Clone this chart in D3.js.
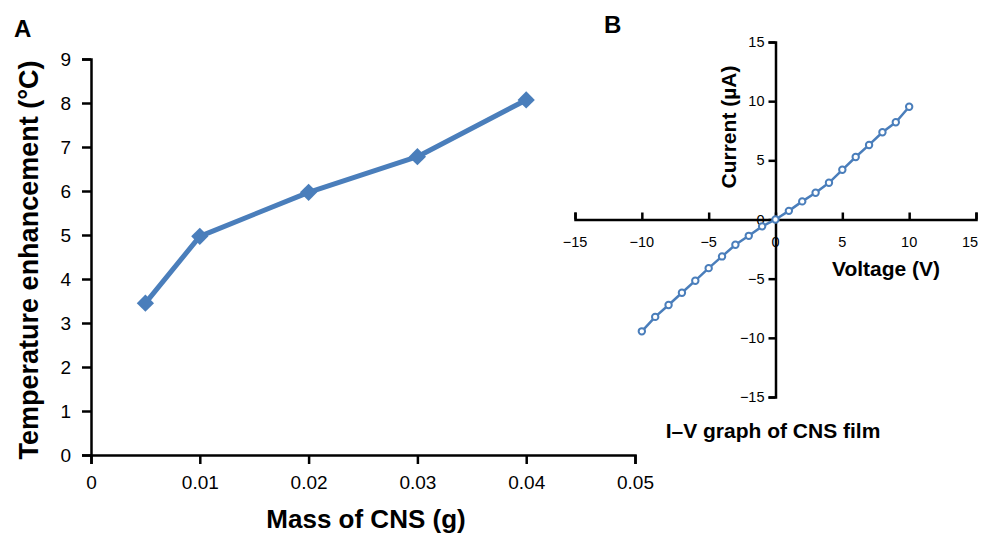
<!DOCTYPE html>
<html>
<head>
<meta charset="utf-8">
<script src="https://cdn.jsdelivr.net/npm/d3@7"></script>
<style>
  body { margin: 0; background: #fff; }
  text { font-family: "Liberation Sans", Arial, sans-serif; fill: #000; }
</style>
</head>
<body>
<div id="chart"></div>
<script>
// panel A data
var massCNS = [0.005, 0.01, 0.02, 0.03, 0.04];
var tempEnh = [3.45, 4.97, 5.97, 6.78, 8.07];
var massTicks = [0, 0.01, 0.02, 0.03, 0.04, 0.05];
var tempTicks = [0, 1, 2, 3, 4, 5, 6, 7, 8, 9];

// panel B data
var voltage = [-10, -9, -8, -7, -6, -5, -4, -3, -2, -1, 0, 1, 2, 3, 4, 5, 6, 7, 8, 9, 10];
var current = [-9.45, -8.23, -7.23, -6.19, -5.17, -4.11, -3.12, -2.13, -1.38, -0.58, 0,
               0.73, 1.53, 2.26, 3.1, 4.2, 5.28, 6.3, 7.37, 8.22, 9.53];
var ivTicks = [-15, -10, -5, 0, 5, 10, 15];

var blue = "#4a7ebb";

var svg = d3.select("#chart")
  .append("svg")
  .attr("width", 981)
  .attr("height", 533);

function fmtMinus(d) { return d < 0 ? "\u2212" + Math.abs(d) : String(d); }

// ---------- panel A ----------
var xA = d3.scaleLinear().domain([0, 0.05]).range([91, 635]);
var yA = d3.scaleLinear().domain([0, 9]).range([455, 59]);

var gA = svg.append("g");

gA.append("g")
  .attr("transform", "translate(0," + yA(0) + ")")
  .call(d3.axisBottom(xA).tickValues(massTicks).tickSize(9).tickPadding(12)
    .tickFormat(function(d) { return d === 0 ? "0" : d3.format(".2f")(d); }));

gA.append("g")
  .attr("transform", "translate(" + xA(0) + ",0)")
  .call(d3.axisLeft(yA).tickValues(tempTicks).tickSize(9).tickPadding(11));

gA.selectAll(".domain, .tick line")
  .attr("stroke", "#000")
  .attr("stroke-width", 2.5);
gA.selectAll(".tick text")
  .style("font-size", "19px");

var lineA = d3.line()
  .x(function(d, i) { return xA(massCNS[i]); })
  .y(function(d) { return yA(d); });

gA.append("path")
  .datum(tempEnh)
  .attr("d", lineA)
  .attr("fill", "none")
  .attr("stroke", blue)
  .attr("stroke-width", 5)
  .attr("stroke-linejoin", "round");

gA.selectAll(".diamond")
  .data(tempEnh)
  .enter()
  .append("path")
    .attr("class", "diamond")
    .attr("d", d3.symbol().type(d3.symbolDiamond2).size(190))
    .attr("transform", function(d, i) { return "translate(" + xA(massCNS[i]) + "," + yA(d) + ")"; })
    .attr("fill", blue);

gA.append("text")
  .attr("x", 366).attr("y", 528)
  .attr("text-anchor", "middle")
  .style("font-size", "26px").style("font-weight", "bold")
  .text("Mass of CNS (g)");

gA.append("text")
  .attr("transform", "translate(38,260) rotate(-90)")
  .attr("text-anchor", "middle")
  .style("font-size", "27px").style("font-weight", "bold")
  .text("Temperature enhancement (\u00B0C)");

gA.append("text")
  .attr("x", 14).attr("y", 37)
  .style("font-size", "24px").style("font-weight", "bold")
  .text("A");

// ---------- panel B ----------
var xB = d3.scaleLinear().domain([-15, 15]).range([575, 976]);
var yB = d3.scaleLinear().domain([-15, 15]).range([397, 42]);

var gB = svg.append("g");

// x axis crosses at I = 0, ticks point up
gB.append("g")
  .attr("transform", "translate(0," + yB(0) + ")")
  .call(d3.axisTop(xB).tickValues(ivTicks).tickSize(7).tickFormat(""));

// tick labels drawn below the axis line; the last one is pulled in so it fits
gB.selectAll(".xlab")
  .data(ivTicks)
  .enter()
  .append("text")
    .attr("class", "xlab")
    .attr("x", function(d) { return d === 15 ? xB(d) - 6 : xB(d); })
    .attr("y", yB(0) + 27)
    .attr("text-anchor", "middle")
    .style("font-size", "14.5px")
    .text(fmtMinus);

gB.append("g")
  .attr("transform", "translate(" + xB(0) + ",0)")
  .call(d3.axisLeft(yB).tickValues(ivTicks).tickSize(7).tickPadding(4).tickFormat(fmtMinus));

gB.selectAll(".domain, .tick line")
  .attr("stroke", "#000")
  .attr("stroke-width", 2.5);
gB.selectAll(".tick text")
  .style("font-size", "14.5px");

var lineB = d3.line()
  .x(function(d, i) { return xB(voltage[i]); })
  .y(function(d) { return yB(d); });

gB.append("path")
  .datum(current)
  .attr("d", lineB)
  .attr("fill", "none")
  .attr("stroke", blue)
  .attr("stroke-width", 2.5);

gB.selectAll(".dot")
  .data(current)
  .enter()
  .append("circle")
    .attr("class", "dot")
    .attr("cx", function(d, i) { return xB(voltage[i]); })
    .attr("cy", function(d) { return yB(d); })
    .attr("r", 3.2)
    .attr("fill", "#fff")
    .attr("stroke", blue)
    .attr("stroke-width", 2);

gB.append("text")
  .attr("x", 886).attr("y", 276)
  .attr("text-anchor", "middle")
  .style("font-size", "21px").style("font-weight", "bold")
  .text("Voltage (V)");

gB.append("text")
  .attr("transform", "translate(736,127) rotate(-90)")
  .attr("text-anchor", "middle")
  .style("font-size", "21px").style("font-weight", "bold")
  .text("Current (\u00B5A)");

gB.append("text")
  .attr("x", 773).attr("y", 438)
  .attr("text-anchor", "middle")
  .style("font-size", "21px").style("font-weight", "bold")
  .text("I\u2013V graph of CNS film");

gB.append("text")
  .attr("x", 604).attr("y", 33)
  .style("font-size", "24px").style("font-weight", "bold")
  .text("B");
</script>
</body>
</html>
